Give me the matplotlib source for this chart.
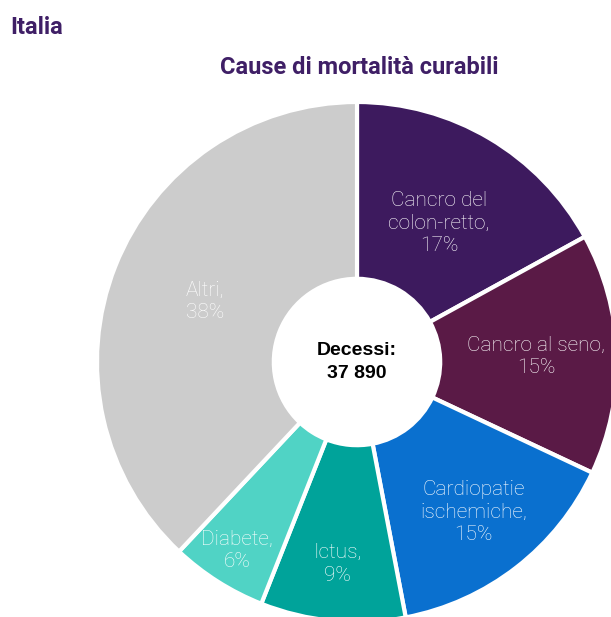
import numpy as np
import matplotlib.pyplot as plt

# data
causes = ['Cancro del\ncolon-retto,', 'Cancro al seno,', 'Cardiopatie\nischemiche,',
          'Ictus,', 'Diabete,', 'Altri,']
shares = [17, 15, 15, 9, 6, 38]
colors = ['#3d1a5e', '#5a1a46', '#0a70cf', '#00a39a', '#50d3c5', '#cccccc']
label_r = [0.62, 0.69, 0.73, 0.78, 0.86, 0.63]   # radial spot of each label
total_deaths = '37 890'

plt.rcParams['font.family'] = ['Roboto', 'DejaVu Sans']
purple = '#3f1f66'

fig = plt.figure(figsize=(6.11, 6.17), dpi=100)
ax = fig.add_axes([0, 0, 1, 1])

R = 260  # outer radius in pixels, center at (357, 362)
wedges, _ = ax.pie(shares, colors=colors, startangle=90, counterclock=False,
                   radius=1, wedgeprops=dict(width=0.68, edgecolor='white', linewidth=3))

for w, name, s, r in zip(wedges, causes, shares, label_r):
    ang = np.deg2rad((w.theta1 + w.theta2) / 2)
    ax.text(r * np.cos(ang), r * np.sin(ang), f'{name}\n{s}%', ha='center', va='center',
            color='white', fontsize=15, fontweight='light', linespacing=1.22)

ax.text(0, 0, f'Decessi:\n{total_deaths}', ha='center', va='center', fontsize=14,
        fontweight='bold', color='black', linespacing=1.4,
        family=['Liberation Sans', 'DejaVu Sans'])

ax.set_xlim(-357 / R, (611 - 357) / R)
ax.set_ylim((362 - 617) / R, 362 / R)
ax.set_aspect('auto')
ax.axis('off')

fig.text(10 / 611, 1 - 28 / 617, 'Italia', ha='left', va='center', fontsize=17,
         fontweight='bold', color=purple)
fig.text(359 / 611, 1 - 68 / 617, 'Cause di mortalità curabili', ha='center', va='center',
         fontsize=17, fontweight='bold', color=purple)

fig.savefig('out.png', dpi=100)
